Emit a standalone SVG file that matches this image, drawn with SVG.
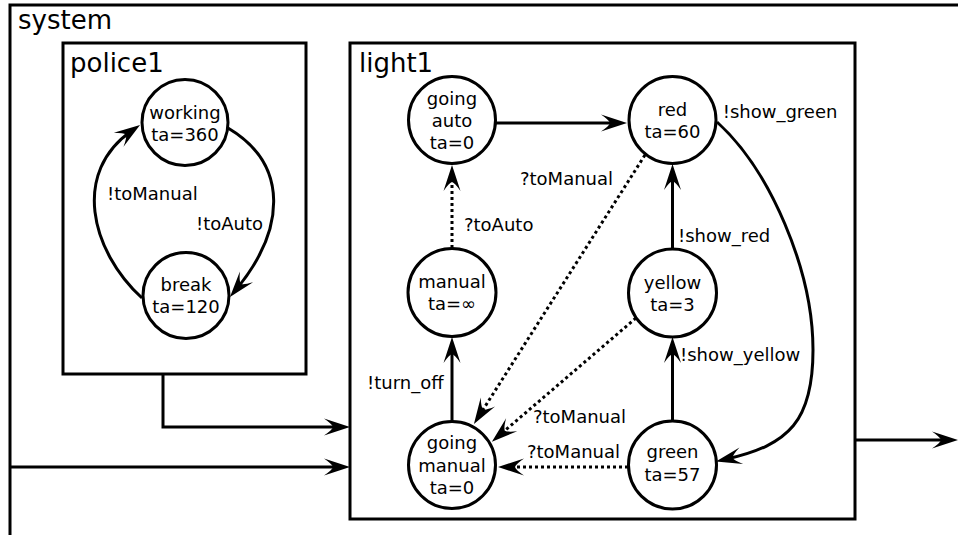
<svg xmlns="http://www.w3.org/2000/svg" width="958" height="535" viewBox="0 0 958 535">
<style>
  .box { fill: none; stroke: #000; stroke-width: 3; }
  .node { fill: #fff; stroke: #000; stroke-width: 3; }
  .t { font-family: "DejaVu Sans", "Liberation Sans", sans-serif; font-size: 18px; fill: #000; }
  .nt { font-family: "DejaVu Sans", "Liberation Sans", sans-serif; font-size: 18px; fill: #000; text-anchor: middle; }
  .title { font-family: "DejaVu Sans", "Liberation Sans", sans-serif; font-size: 26px; fill: #000; }
  .edge { fill: none; stroke: #000; stroke-width: 3; marker-end: url(#arr); }
  .dot { stroke-dasharray: 3 3; }
</style>
<defs>
  <marker id="arr" markerUnits="userSpaceOnUse" viewBox="-30 -12 34 24" refX="-10" refY="0" markerWidth="34" markerHeight="24" orient="auto">
    <path d="M0,0 L-26,-8.5 Q-18,-3 -17,0 Q-18,3 -26,8.5 Z" fill="#000"/>
  </marker>
</defs>
<rect width="958" height="535" fill="#fff"/>

<g id="system">
  <rect class="box" x="10" y="5" width="970" height="560"/>
  <text class="title" x="18" y="29">system</text>
</g>

<g id="police1">
  <rect class="box" x="63" y="43" width="243" height="331"/>
  <text class="title" x="70" y="72">police1</text>
</g>

<g id="light1">
  <rect class="box" x="350" y="43" width="505" height="476"/>
  <text class="title" x="359" y="72">light1</text>
</g>

<g id="connectors">
  <!-- police1 internal -->
  <path class="edge" d="M142,298 C90,250 72,172 131.8,130.7"/>
  <path class="edge" d="M228,128 C290,165 285,230 236.3,289.3"/>
  <!-- system level -->
  <path class="edge" d="M163,374 L163,427 L340,427"/>
  <path class="edge" d="M10,467 L340,467"/>
  <path class="edge" d="M855,440 L948,440"/>
  <!-- light1 internal -->
  <path class="edge" d="M496,123 L617,123"/>
  <path class="edge dot" d="M452,248 L452,175"/>
  <path class="edge" d="M452,422 L452,347"/>
  <path class="edge" d="M672.5,249 L672.5,174"/>
  <path class="edge" d="M672.5,422 L672.5,347"/>
  <path class="edge dot" d="M645,155 L479.3,415.5"/>
  <path class="edge dot" d="M636,318 L499.5,435.2"/>
  <path class="edge dot" d="M628,467 L508,467"/>
  <path class="edge" d="M717,122 C770,170 813,270 813,350 C813,420 790,445 725.7,459.3"/>
</g>

<g id="labels">
  <text class="t" x="107" y="200">!toManual</text>
  <text class="t" x="196" y="230">!toAuto</text>
  <text class="t" x="520" y="185">?toManual</text>
  <text class="t" x="464" y="231">?toAuto</text>
  <text class="t" x="722.7" y="118">!show_green</text>
  <text class="t" x="678" y="242">!show_red</text>
  <text class="t" x="680" y="360.5">!show_yellow</text>
  <text class="t" x="367" y="389">!turn_off</text>
  <text class="t" x="533" y="423">?toManual</text>
  <text class="t" x="527" y="458">?toManual</text>
</g>

<g id="working">
  <circle class="node" cx="185" cy="122.5" r="43"/>
  <text class="nt" x="185" y="119">working</text>
  <text class="nt" x="185" y="140.5">ta=360</text>
</g>
<g id="break">
  <circle class="node" cx="186" cy="295.5" r="43"/>
  <text class="nt" x="186" y="290.5">break</text>
  <text class="nt" x="186" y="313">ta=120</text>
</g>
<g id="going_auto">
  <circle class="node" cx="452" cy="120" r="43.5"/>
  <text class="nt" x="452" y="104.5">going</text>
  <text class="nt" x="452" y="127">auto</text>
  <text class="nt" x="452" y="149">ta=0</text>
</g>
<g id="red">
  <circle class="node" cx="672.5" cy="120" r="43.5"/>
  <text class="nt" x="672.5" y="116">red</text>
  <text class="nt" x="672.5" y="138">ta=60</text>
</g>
<g id="manual">
  <circle class="node" cx="452" cy="292.5" r="44"/>
  <text class="nt" x="452" y="288">manual</text>
  <text class="nt" x="452" y="310">ta=∞</text>
</g>
<g id="yellow">
  <circle class="node" cx="672.5" cy="293" r="44"/>
  <text class="nt" x="672.5" y="289">yellow</text>
  <text class="nt" x="672.5" y="311">ta=3</text>
</g>
<g id="going_manual">
  <circle class="node" cx="452" cy="465" r="43.5"/>
  <text class="nt" x="452" y="449">going</text>
  <text class="nt" x="452" y="471.5">manual</text>
  <text class="nt" x="452" y="494">ta=0</text>
</g>
<g id="green">
  <circle class="node" cx="672.5" cy="465" r="44"/>
  <text class="nt" x="672.5" y="458">green</text>
  <text class="nt" x="672.5" y="481">ta=57</text>
</g>
</svg>
